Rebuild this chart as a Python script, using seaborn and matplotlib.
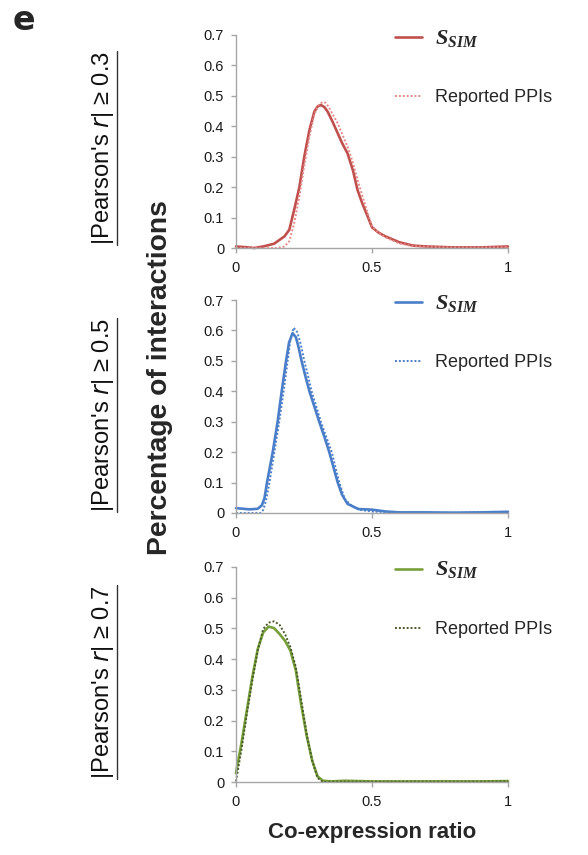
import numpy as np
import pandas as pd
import matplotlib
matplotlib.use("Agg")
import matplotlib.pyplot as plt
import seaborn as sns
from matplotlib import font_manager
from matplotlib.lines import Line2D

# ---------------- data ----------------
red_sim_x = [0, 0.03, 0.067, 0.1, 0.14, 0.178, 0.196, 0.214, 0.233, 0.251, 0.27, 0.288, 0.30, 0.312,
             0.325, 0.337, 0.355, 0.374, 0.39, 0.41, 0.43, 0.447, 0.465, 0.484, 0.5, 0.525, 0.55,
             0.6, 0.65, 0.7, 0.8, 0.9, 1.0]
red_sim_y = [0.005, 0.003, 0.0, 0.005, 0.014, 0.038, 0.06, 0.126, 0.2, 0.3, 0.388, 0.448, 0.465, 0.47,
             0.463, 0.448, 0.415, 0.377, 0.345, 0.311, 0.255, 0.19, 0.145, 0.104, 0.068, 0.05, 0.038,
             0.019, 0.008, 0.005, 0.002, 0.002, 0.005]
red_ppi_x = [0, 0.1, 0.15, 0.178, 0.196, 0.214, 0.233, 0.251, 0.27, 0.288, 0.305, 0.319, 0.33, 0.34,
             0.355, 0.374, 0.39, 0.41, 0.43, 0.447, 0.465, 0.484, 0.5, 0.525, 0.55, 0.6, 0.65, 0.7,
             0.8, 0.9, 1.0]
red_ppi_y = [0, 0, 0.0, 0.005, 0.022, 0.082, 0.17, 0.27, 0.366, 0.44, 0.472, 0.48, 0.477, 0.465,
             0.44, 0.41, 0.375, 0.333, 0.28, 0.224, 0.17, 0.115, 0.071, 0.05, 0.035, 0.015, 0.006,
             0.004, 0.002, 0.002, 0.003]

blue_sim_x = [0, 0.05, 0.08, 0.095, 0.105, 0.114, 0.135, 0.153, 0.168, 0.184, 0.195, 0.208, 0.22,
              0.23, 0.241, 0.255, 0.27, 0.288, 0.306, 0.325, 0.343, 0.36, 0.374, 0.39, 0.41, 0.45,
              0.5, 0.55, 0.6, 0.7, 0.8, 0.9, 1.0]
blue_sim_y = [0.016, 0.012, 0.014, 0.025, 0.05, 0.1, 0.2, 0.3, 0.4, 0.5, 0.56, 0.591, 0.578,
              0.545, 0.5, 0.45, 0.4, 0.35, 0.3, 0.25, 0.2, 0.145, 0.1, 0.06, 0.03, 0.013,
              0.011, 0.005, 0.002, 0.002, 0.001, 0.002, 0.004]
blue_ppi_x = [0.0, 0.09, 0.1, 0.11, 0.123, 0.141, 0.159, 0.175, 0.19, 0.2, 0.212, 0.225, 0.238,
              0.251, 0.265, 0.278, 0.295, 0.312, 0.332, 0.352, 0.367, 0.38, 0.4, 0.43, 0.46, 0.5,
              0.55, 0.6, 0.7, 0.8, 0.9, 1.0]
blue_ppi_y = [0.0, 0.0, 0.01, 0.04, 0.1, 0.2, 0.3, 0.4, 0.5, 0.57, 0.609, 0.595, 0.555,
              0.5, 0.45, 0.4, 0.35, 0.3, 0.25, 0.2, 0.145, 0.1, 0.045, 0.02, 0.01, 0.005,
              0.003, 0.002, 0.001, 0.001, 0.002, 0.003]

green_sim_x = [0, 0.02, 0.04, 0.06, 0.08, 0.1, 0.12, 0.14, 0.16, 0.18, 0.2, 0.22, 0.24, 0.26,
               0.28, 0.3, 0.32, 0.35, 0.4, 0.5, 0.6, 0.7, 0.8, 0.9, 1.0]
green_sim_y = [0.029, 0.126, 0.234, 0.342, 0.433, 0.487, 0.506, 0.501, 0.482, 0.46, 0.428, 0.363,
               0.25, 0.15, 0.07, 0.018, 0.004, 0.002, 0.004, 0.002, 0.002, 0.002, 0.002, 0.002, 0.003]
green_ppi_x = [0, 0.02, 0.04, 0.06, 0.08, 0.1, 0.12, 0.14, 0.16, 0.18, 0.2, 0.22, 0.24, 0.26,
               0.28, 0.3, 0.32, 0.35, 0.4, 0.5, 0.6, 0.7, 0.8, 0.9, 1.0]
green_ppi_y = [0.002, 0.105, 0.223, 0.331, 0.428, 0.498, 0.519, 0.523, 0.512, 0.482, 0.439, 0.374,
               0.266, 0.155, 0.07, 0.013, 0.0, 0.001, 0.001, 0.001, 0.001, 0.001, 0.001, 0.001, 0.002]

panel_labels = ["|Pearson's $r$| ≥ 0.3", "|Pearson's $r$| ≥ 0.5", "|Pearson's $r$| ≥ 0.7"]
legend_labels = ["$S_{SIM}$", "Reported PPIs"]
x_ticks = [0, 0.5, 1]
x_ticklabels = ["0", "0.5", "1"]
y_ticks = [0, 0.1, 0.2, 0.3, 0.4, 0.5, 0.6, 0.7]
y_ticklabels = ["0", "0.1", "0.2", "0.3", "0.4", "0.5", "0.6", "0.7"]

# ---------------- style ----------------
sns.set_style("white")
plt.rcParams["font.family"] = ["Liberation Sans", "DejaVu Sans"]
plt.rcParams["mathtext.fontset"] = "custom"
plt.rcParams["mathtext.it"] = "Liberation Serif:italic:bold"
plt.rcParams["mathtext.rm"] = "Liberation Serif:bold"
plt.rcParams["mathtext.bf"] = "Liberation Serif:italic:bold"

names = {f.name for f in font_manager.fontManager.ttflist}
narrow = "Liberation Sans Narrow" if "Liberation Sans Narrow" in names else "Liberation Sans"

W, H = 588, 855
fig = plt.figure(figsize=(W / 100, H / 100), dpi=100)
fig.patch.set_facecolor("white")

panels = [
    dict(top=35, bottom=248, sx=red_sim_x, sy=red_sim_y, px=red_ppi_x, py=red_ppi_y,
         c1="#C0504D", c2="#E58A88", lab_center=148),
    dict(top=300, bottom=513, sx=blue_sim_x, sy=blue_sim_y, px=blue_ppi_x, py=blue_ppi_y,
         c1="#4A7EC9", c2="#4A7EC9", lab_center=415),
    dict(top=567, bottom=782, sx=green_sim_x, sy=green_sim_y, px=green_ppi_x, py=green_ppi_y,
         c1="#77A03A", c2="#4A5A2C", lab_center=682),
]

left_px, right_px = 236, 508
spine_c = "#A6A6A6"
label_texts = []
for i, p in enumerate(panels):
    ax = fig.add_axes([left_px / W, (H - p["bottom"]) / H, (right_px - left_px) / W,
                       (p["bottom"] - p["top"]) / H])
    df_s = pd.DataFrame({"x": p["sx"], "y": p["sy"]})
    df_p = pd.DataFrame({"x": p["px"], "y": p["py"]})
    sns.lineplot(data=df_s, x="x", y="y", ax=ax, color=p["c1"], lw=1.9,
                 label=legend_labels[0], sort=False, estimator=None)
    sns.lineplot(data=df_p, x="x", y="y", ax=ax, color=p["c2"], lw=1.4,
                 linestyle=(0, (1, 1)), label=legend_labels[1], sort=False, estimator=None)
    ax.set_xlim(0, 1)
    ax.set_ylim(0, 0.7)
    ax.set_xticks(x_ticks)
    ax.set_xticklabels(x_ticklabels)
    ax.set_yticks(y_ticks)
    ax.set_yticklabels(y_ticklabels)
    ax.set_xlabel("")
    ax.set_ylabel("")
    for s in ["top", "right"]:
        ax.spines[s].set_visible(False)
    for s in ["left", "bottom"]:
        ax.spines[s].set_color(spine_c)
        ax.spines[s].set_linewidth(1.0)
    ax.tick_params(axis="both", bottom=True, left=True, direction="out", length=3.5,
                   width=1, color=spine_c, labelsize=10.5, labelcolor="#1a1a1a")
    ax.tick_params(axis="y", pad=5)
    ax.tick_params(axis="x", pad=6)
    for line in ax.get_lines():
        line.set_clip_on(False)
    leg = ax.legend(loc="upper left", bbox_to_anchor=(0.585, 1.035), frameon=False,
                    fontsize=13, borderpad=0, borderaxespad=0, handlelength=1.5,
                    handletextpad=0.7, labelspacing=2.25)
    leg.get_texts()[0].set_fontsize(16)

    t = fig.text(103 / W, 1 - p["lab_center"] / H, panel_labels[i], rotation=90,
                 ha="center", va="center", fontsize=16, family=[narrow, "DejaVu Sans"],
                 math_fontfamily="dejavusans", color="#111111")
    label_texts.append(t)

fig.text(24 / W, 1 - 20 / H, "e", fontsize=24, fontweight="bold", ha="center", va="center",
         family=["DejaVu Sans"])
ylab = fig.text(160 / W, 1 - 378 / H, "Percentage of interactions", rotation=90, ha="center",
                va="center", fontsize=16, fontweight="bold", family=[narrow, "DejaVu Sans"])
fig.text(372 / W, 1 - 832 / H, "Co-expression ratio", ha="center", va="center", fontsize=16,
         fontweight="bold")

# fit rotated label lengths to the reference
fig.canvas.draw()
r = fig.canvas.get_renderer()
for t in label_texts:
    bb = t.get_window_extent(r)
    t.set_fontsize(16 * 194 / bb.height)
bb = ylab.get_window_extent(r)
ylab.set_fontsize(16 * 355 / bb.height)
fig.canvas.draw()
for t in label_texts:
    bb = t.get_window_extent(r)
    xline = (bb.x1 + 1) / W
    fig.add_artist(Line2D([xline, xline], [bb.y0 / H, bb.y1 / H], color="#333333", lw=1.0,
                          transform=fig.transFigure))

fig.savefig("out.png", dpi=100, facecolor="white")
